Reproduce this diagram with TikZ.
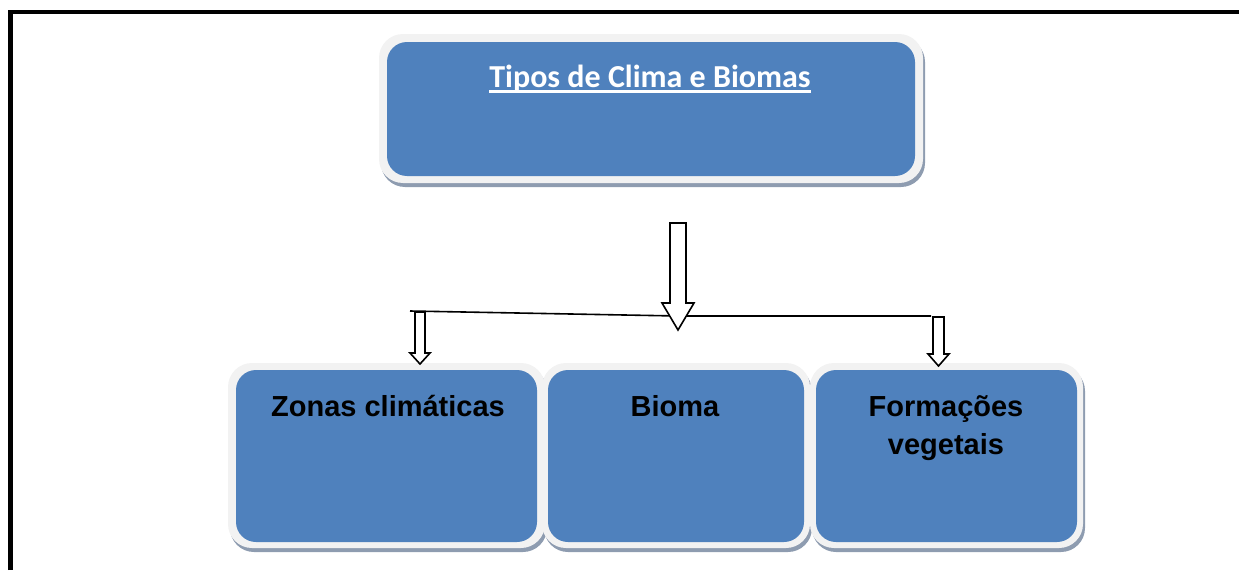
\documentclass[tikz,border=0pt]{standalone}
\usepackage{fontspec}
\setmainfont{Liberation Sans}
\newfontfamily\calfont{Carlito}
\usetikzlibrary{shadows}
\definecolor{boxblue}{HTML}{4F81BD}
\definecolor{boxrim}{HTML}{F2F2F2}
\definecolor{boxshadow}{HTML}{8E9CB0}
\tikzset{
  rimbox/.style={fill=boxrim, rounded corners=24pt, inner sep=0pt,
    drop shadow={shadow xshift=2pt, shadow yshift=-4pt, fill=boxshadow, opacity=1}},
  bluebox/.style={fill=boxblue, rounded corners=20pt, inner sep=0pt},
  lbl/.style={font=\fontsize{29}{38}\selectfont\bfseries, text=black, anchor=base, align=center, inner sep=0pt},
  hollow/.style={draw=black, fill=white, line width=1.6pt, line join=miter},
  frame/.style={line width=4.5pt, draw=black}
}
\begin{document}
\begin{tikzpicture}[x=1pt,y=-1pt]
\useasboundingbox (0,0) rectangle (1239,570);
% frame
\draw[frame] (10.5,570) -- (10.5,12) -- (1239,12);
% top box
\node[rimbox, minimum width=544pt, minimum height=149pt] (toprim) at (651,108.5) {};
\node[bluebox, minimum width=528pt, minimum height=134pt] (top) at (651,109) {};
\node[font=\calfont\fontsize{32}{38}\selectfont\bfseries, text=white, anchor=base, inner sep=0pt] (title) at (650,87) {Tipos de Clima e Biomas};
\draw[white, line width=2.6pt] ([yshift=-4.5pt]title.base west) -- ([yshift=-4.5pt]title.base east);
% bottom boxes
\node[rimbox, minimum width=317pt, minimum height=185pt] (zrim) at (386.5,455.5) {};
\node[bluebox, minimum width=301pt, minimum height=172pt] (zona) at (386.5,456) {};
\node[rimbox, minimum width=268pt, minimum height=185pt] (brim) at (676,455.5) {};
\node[bluebox, minimum width=256pt, minimum height=172pt] (bioma) at (676,456) {};
\node[rimbox, minimum width=273pt, minimum height=185pt] (frim) at (946.5,455.5) {};
\node[bluebox, minimum width=261pt, minimum height=172pt] (form) at (946.5,456) {};
\node[lbl] (zl) at (388,416) {Zonas climáticas};
\node[lbl] (bl) at (675,416) {Bioma};
\node[lbl] (fl1) at (946,416) {Formações};
\node[lbl] (fl2) at (946,454) {vegetais};
% branch line
\coordinate (bl0) at (410,311);
\coordinate (bmid) at (678,316);
\coordinate (br0) at (931,316);
\draw[line width=1.6pt] (bl0) -- (bmid) -- (br0);
% big hollow arrow
\draw[hollow] (670,223) -- (686,223) -- (686,303) -- (694,303) -- (678,330) -- (662,303) -- (670,303) -- cycle;
% left small arrow
\draw[hollow] (415,312) -- (425,312) -- (425,353) -- (430,353) -- (420,364) -- (410,353) -- (415,353) -- cycle;
% right small arrow
\draw[hollow] (933,317) -- (944,317) -- (944,354) -- (949,354) -- (938.5,366) -- (928,354) -- (933,354) -- cycle;
\end{tikzpicture}
\end{document}
